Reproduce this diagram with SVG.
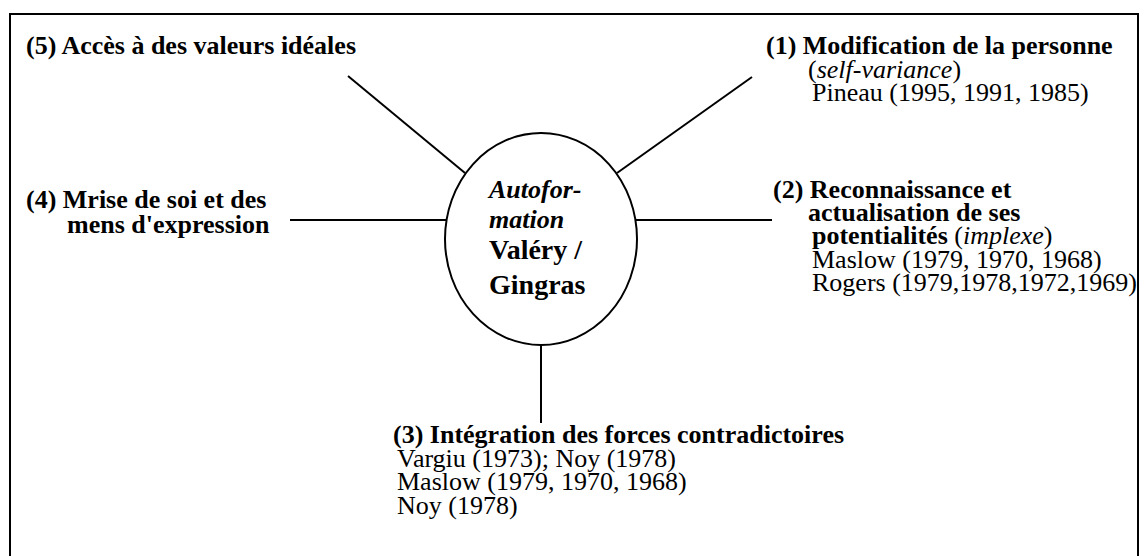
<svg xmlns="http://www.w3.org/2000/svg" width="1147" height="556" viewBox="0 0 1147 556">
<style>
text{font-family:"Liberation Serif","Times New Roman",serif;font-size:26px;fill:#000}
.b{font-weight:bold}
.i{font-style:italic}
.big{font-size:28px}
.ln{stroke:#000;stroke-width:2;fill:none}
</style>
<rect x="0" y="0" width="1147" height="556" fill="#fff"/>
<rect x="10" y="14" width="1128" height="560" fill="none" stroke="#000" stroke-width="2"/>
<g id="connectors">
<line class="ln" x1="348" y1="76" x2="465" y2="173"/>
<line class="ln" x1="617" y1="173" x2="752" y2="77"/>
<line class="ln" x1="290" y1="220" x2="446" y2="220"/>
<line class="ln" x1="636" y1="220" x2="772" y2="220"/>
<line class="ln" x1="541" y1="345" x2="541" y2="423"/>
</g>
<g id="center">
<ellipse class="ln" cx="541" cy="239" rx="96" ry="106" fill="#fff"/>
<text class="b i" x="489" y="198">Autofor-</text>
<text class="b i" x="489" y="228">mation</text>
<text class="b big" x="489" y="259">Valéry /</text>
<text class="b big" x="489" y="294">Gingras</text>
</g>
<g id="n5">
<text class="b" x="26" y="54">(5) Accès à des valeurs idéales</text>
</g>
<g id="n1">
<text class="b" x="766" y="54">(1) Modification de la personne</text>
<text x="808" y="78">(<tspan class="i">self-variance</tspan>)</text>
<text x="812" y="101">Pineau (1995, 1991, 1985)</text>
</g>
<g id="n4">
<text class="b" x="26" y="208">(4) Mrise de soi et des</text>
<text class="b" x="67" y="233">mens d'expression</text>
</g>
<g id="n2">
<text class="b" x="773" y="198">(2) Reconnaissance et</text>
<text class="b" x="808" y="221">actualisation de ses</text>
<text x="812" y="244"><tspan class="b">potentialités</tspan> (<tspan class="i">implexe</tspan>)</text>
<text x="812" y="268">Maslow (1979, 1970, 1968)</text>
<text x="812" y="291">Rogers (1979,1978,1972,1969)</text>
</g>
<g id="n3">
<text class="b" x="393" y="443">(3) Intégration des forces contradictoires</text>
<text x="397" y="467">Vargiu (1973); Noy (1978)</text>
<text x="397" y="490">Maslow (1979, 1970, 1968)</text>
<text x="397" y="514">Noy (1978)</text>
</g>
</svg>
